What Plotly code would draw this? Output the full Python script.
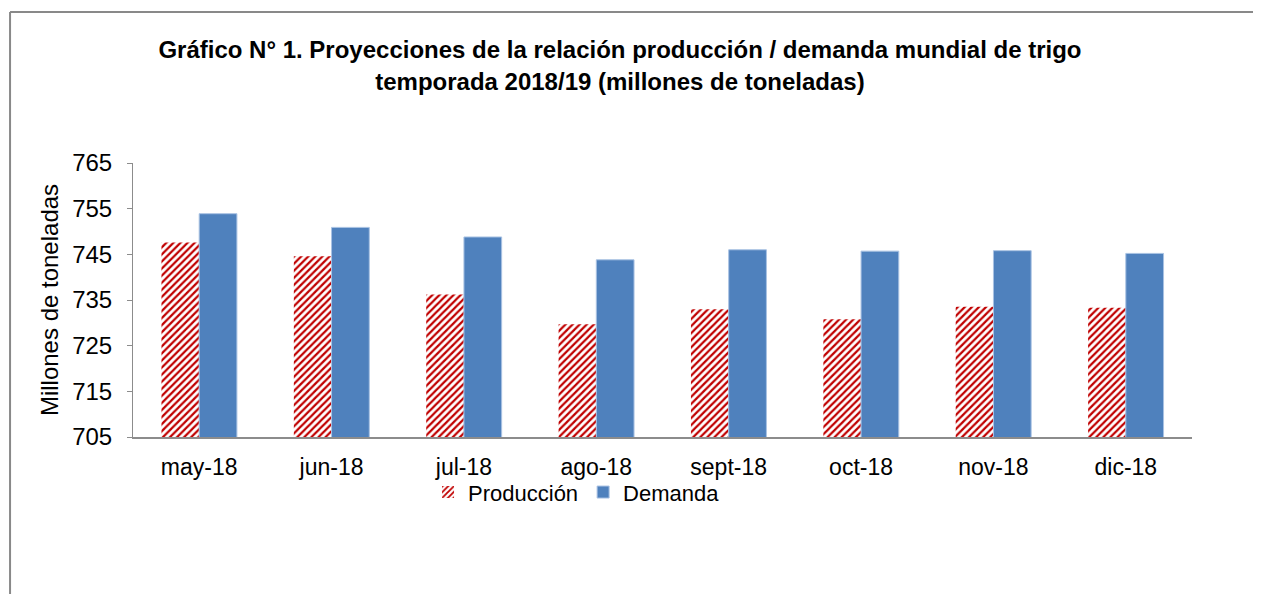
import plotly.graph_objects as go

months = ["may-18", "jun-18", "jul-18", "ago-18", "sept-18", "oct-18", "nov-18", "dic-18"]
produccion = [747.6, 744.6, 736.2, 729.7, 733.0, 730.8, 733.5, 733.3]
demanda = [753.9, 750.9, 748.8, 743.8, 746.0, 745.7, 745.8, 745.2]
y_ticks = [705, 715, 725, 735, 745, 755, 765]

FONT = "Liberation Sans, Arial, sans-serif"

fig = go.Figure()

fig.add_trace(go.Bar(
    x=months, y=produccion, name="Producción",
    marker=dict(
        color="white",
        line=dict(width=0),
        pattern=dict(shape="/", fgcolor="#c00000", bgcolor="white",
                     size=5, solidity=0.45, fillmode="replace"),
    ),
))
fig.add_trace(go.Bar(
    x=months, y=demanda, name="Demanda",
    marker=dict(color="#4f81bd", line=dict(width=1, color="#a9c2e3")),
))

# chart frame (only top and left edges show in the picture)
fig.add_shape(type="line", xref="paper", yref="paper",
              x0=-0.1161, x1=1.1, y0=1.5511, y1=1.5511,
              line=dict(color="#898989", width=2))
fig.add_shape(type="line", xref="paper", yref="paper",
              x0=-0.1161, x1=-0.1161, y0=1.5511, y1=-0.6,
              line=dict(color="#898989", width=2))

fig.update_layout(
    width=1253, height=586,
    margin=dict(l=125, r=69, t=155, b=157),
    paper_bgcolor="white", plot_bgcolor="white",
    font=dict(family=FONT, size=22, color="black"),
    title=dict(
        text="<b>Gráfico N° 1. Proyecciones de la relación producción / demanda mundial de trigo<br>temporada 2018/19 (millones de toneladas)</b>",
        x=0.4884, xanchor="center", y=0.914, yanchor="top",
        font=dict(family=FONT, size=24, color="black"),
    ),
    barmode="group", bargap=0.43, bargroupgap=0,
    showlegend=True,
    legend=dict(orientation="h", x=0.2786, xanchor="left", y=-0.125, yanchor="top",
                bgcolor="rgba(0,0,0,0)",
                font=dict(family=FONT, size=22), itemwidth=30,
                traceorder="normal", tracegroupgap=0),
    xaxis=dict(showline=True, linecolor="#8c8c8c", linewidth=2, ticks="",
               showgrid=False, tickfont=dict(size=23), ticklabelstandoff=8),
    yaxis=dict(range=[705, 765], tickvals=y_ticks, showline=True,
               linecolor="#8c8c8c", linewidth=1, ticks="outside", ticklen=5,
               tickcolor="#8c8c8c", showgrid=False, zeroline=False,
               tickfont=dict(size=24), ticklabelstandoff=10,
               title=dict(text="Millones de toneladas", font=dict(size=24), standoff=6)),
)

fig.write_html("out.html")
